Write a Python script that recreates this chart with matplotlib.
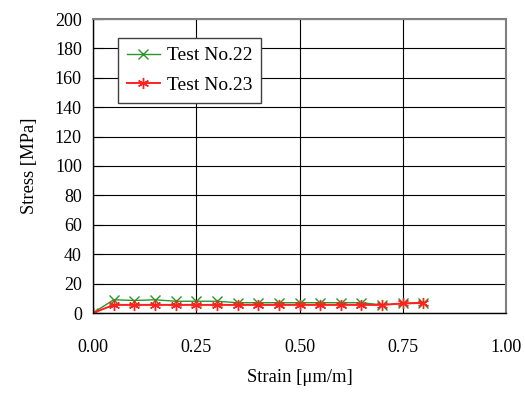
import matplotlib
matplotlib.use('Agg')
import matplotlib.pyplot as plt

plt.rcParams['font.family'] = ['Liberation Serif', 'DejaVu Serif']

strain = [0.00, 0.05, 0.10, 0.15, 0.20, 0.25, 0.30, 0.35, 0.40,
          0.45, 0.50, 0.55, 0.60, 0.65, 0.70, 0.75, 0.80]
stress_22 = [0, 9, 8.5, 9, 8, 8, 8, 7, 7, 7, 7, 7, 7, 7, 5.5, 6.5, 6.5]
stress_23 = [0, 5.5, 5.5, 5.5, 5.5, 5.5, 5.5, 5.5, 5.5,
             5.5, 5.5, 5.5, 5.5, 5.5, 5.5, 6.5, 7]
x_ticks = [0.00, 0.25, 0.50, 0.75, 1.00]
y_ticks = list(range(0, 201, 20))

fig = plt.figure(figsize=(5.25, 3.94), dpi=100)
ax = fig.add_axes([93 / 525, 1 - 313 / 394, 413 / 525, 294 / 394])

ax.plot(strain, stress_22, color='#2a962a', lw=1.0, marker='x', ms=7, mew=1.0,
        label='Test No.22')
ax.plot(strain, stress_23, color='#ff2020', lw=1.4, marker=(6, 2, 0), ms=8, mew=1.0,
        label='Test No.23')

ax.set_xlim(0, 1)
ax.set_ylim(0, 200)
ax.set_xticks(x_ticks)
ax.set_xticklabels(['%.2f' % v for v in x_ticks])
ax.set_yticks(y_ticks)
ax.grid(True, color='black', lw=0.8)
ax.tick_params(axis='x', length=0, pad=19, labelsize=13)
ax.tick_params(axis='y', direction='in', length=7, width=0.8, labelsize=13, pad=8)

for s in ['left', 'bottom']:
    ax.spines[s].set_color('black')
    ax.spines[s].set_linewidth(1.0)
for s in ['top', 'right']:
    ax.spines[s].set_color('#808080')
    ax.spines[s].set_linewidth(1.5)

ax.set_xlabel('Strain [μm/m]', fontsize=13.4, labelpad=9)
ax.set_ylabel('Stress [MPa]', fontsize=13.4, labelpad=12)

leg = ax.legend(loc='upper left', bbox_to_anchor=(0.0605, 0.935), fontsize=14,
                frameon=True, fancybox=False, framealpha=1, edgecolor='#404040',
                borderaxespad=0, borderpad=0.45, handlelength=1.7,
                handletextpad=0.36, labelspacing=0.62)
leg.get_frame().set_linewidth(1.0)

fig.savefig('out.png', dpi=100)
